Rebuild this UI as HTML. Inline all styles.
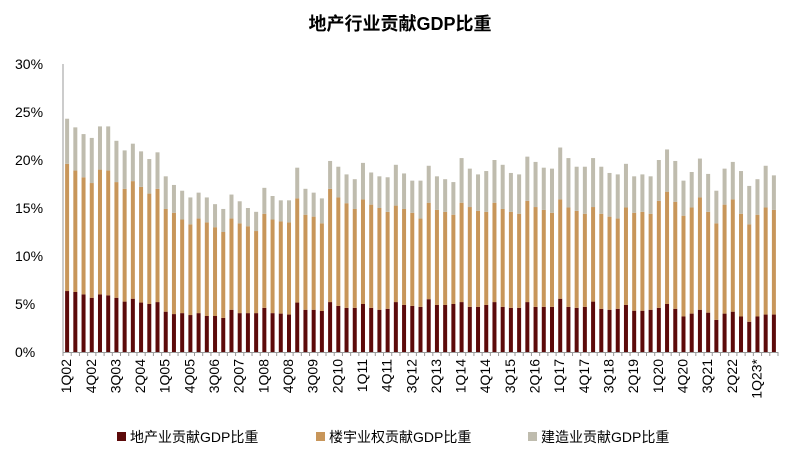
<!DOCTYPE html>
<html><head><meta charset="utf-8"><style>
body{margin:0;background:#fff;width:812px;height:465px;overflow:hidden;font-family:"Liberation Sans","Noto Sans CJK SC",sans-serif}
</style></head><body>
<svg id="chart" width="812" height="465" xmlns="http://www.w3.org/2000/svg" font-family="Liberation Sans, Noto Sans CJK SC, sans-serif">
<text x="400" y="30" text-anchor="middle" font-size="18" font-weight="bold" fill="#000">地产行业贡献GDP比重</text>
<g id="plot"></g>
<g font-size="14" fill="#000">
<g><rect x="117" y="432" width="9" height="9" fill="#5c0a0a"/><text x="130" y="442">地产业贡献GDP比重</text></g>
<g><rect x="316" y="432" width="9" height="9" fill="#c8965a"/><text x="329" y="442">楼宇业权贡献GDP比重</text></g>
<g><rect x="528" y="432" width="9" height="9" fill="#bfbcae"/><text x="541" y="442">建造业贡献GDP比重</text></g>
</g>
</svg>
<script>
const realEstate=[6.35,6.25,6.0,5.65,6.0,5.9,5.65,5.25,5.55,5.15,5.0,5.2,4.2,3.95,4.05,3.85,4.05,3.75,3.75,3.55,4.4,4.05,4.05,4.05,4.6,4.05,4.0,3.9,5.15,4.4,4.4,4.27,5.2,4.8,4.6,4.6,5.0,4.6,4.4,4.5,5.2,4.9,4.8,4.7,5.5,4.9,4.9,5.0,5.2,4.7,4.7,4.9,5.2,4.7,4.6,4.6,5.2,4.7,4.7,4.7,5.55,4.7,4.6,4.7,5.25,4.5,4.4,4.5,4.9,4.3,4.3,4.4,4.6,5.0,4.5,3.7,4.0,4.4,4.1,3.35,4.0,4.2,3.7,3.15,3.7,3.9,3.9];
const propertyRights=[13.25,12.65,12.2,11.95,13.0,13.0,12.05,11.75,12.25,12.05,11.5,11.8,10.7,10.55,9.75,9.45,9.85,9.75,9.25,8.95,9.5,9.35,9.05,8.55,9.8,9.75,9.6,9.6,10.85,9.9,9.7,9.13,11.8,11.3,10.9,10.3,10.9,10.75,10.6,10.1,10.05,10.0,9.7,9.2,10.05,9.9,9.7,9.3,10.35,10.4,10.0,9.7,10.35,10.2,10.0,9.8,10.55,10.4,10.1,9.8,10.35,10.35,10.1,9.7,9.85,9.9,9.7,9.4,10.15,10.2,10.3,10.0,11.15,11.7,11.15,10.5,11.05,11.7,10.5,10.05,11.35,11.7,10.7,10.15,10.6,11.15,10.9];
const construction=[4.7,4.5,4.5,4.7,4.5,4.6,4.3,4.0,3.9,3.7,3.6,3.8,3.4,2.9,3.0,2.8,2.7,2.6,2.4,2.4,2.5,2.3,1.9,2.0,2.7,2.45,2.2,2.3,3.2,2.7,2.5,2.6,2.9,3.2,3.0,3.1,3.8,3.35,3.3,3.6,4.25,3.7,3.35,3.95,3.85,3.5,3.4,3.4,4.65,4.0,3.8,4.25,4.45,4.6,4.05,4.1,4.6,4.7,4.4,4.6,5.4,5.15,4.6,4.9,5.1,4.9,4.55,4.6,4.55,3.8,3.9,3.9,4.25,4.4,4.25,3.65,3.7,4.05,3.95,3.4,3.75,3.9,4.45,4.0,3.7,4.35,3.6];
const yTicks=[0,5,10,15,20,25,30];
const tickEvery=3;
const NS="http://www.w3.org/2000/svg";
const plot=document.getElementById('plot');
const X0=63,X1=778,Y0=352,Y1=64,YMAX=30;
const n=realEstate.length;
const slot=(X1-X0)/n;
const y=v=>Y0-(v/YMAX)*(Y0-Y1);
const xc=i=>X0+slot*(i+0.5);
function mk(tag,attrs){const e=document.createElementNS(NS,tag);for(const k in attrs)e.setAttribute(k,attrs[k]);plot.appendChild(e);return e;}
function label(i){const q=i%4+1,yr=2+Math.floor(i/4);return q+'Q'+String(yr).padStart(2,'0')+(i===n-3?'*':'');}
yTicks.forEach(t=>{
  const tx=mk('text',{x:15,y:y(t)+5,'font-size':14,fill:'#000'});tx.textContent=t+'%';
  
  
});
const series=[[realEstate,'#5c0a0a','bar-real-estate'],[propertyRights,'#c8965a','bar-property-rights'],[construction,'#bfbcae','bar-construction']];
for(let i=0;i<n;i++){
  let base=0;
  series.forEach(([arr,col,name])=>{
    const v=arr[i];
    const r=mk('rect',{x:xc(i)-2,y:y(base+v),width:4,height:y(base)-y(base+v),fill:col});
    
    
    base+=v;
  });
}
const ax=mk('line',{x1:X0,y1:Y1,x2:X0,y2:Y0,stroke:'#999','stroke-width':1});


const bx=mk('line',{x1:X0,y1:Y0+0.5,x2:X1,y2:Y0+0.5,stroke:'#999','stroke-width':1});


for(let i=0;i<=n;i++){
  const tk=mk('line',{x1:X0+slot*i,y1:Y0,x2:X0+slot*i,y2:Y0+4,stroke:'#999','stroke-width':1});
  
  
}
for(let i=0;i<n;i+=tickEvery){
  const cx=xc(i)+4,cy=359;
  const t=mk('text',{x:cx,y:cy,'font-size':14,fill:'#000','text-anchor':'end',transform:`rotate(-90 ${cx} ${cy})`});
  t.textContent=label(i);
  
  
}
</script>
</body></html>
